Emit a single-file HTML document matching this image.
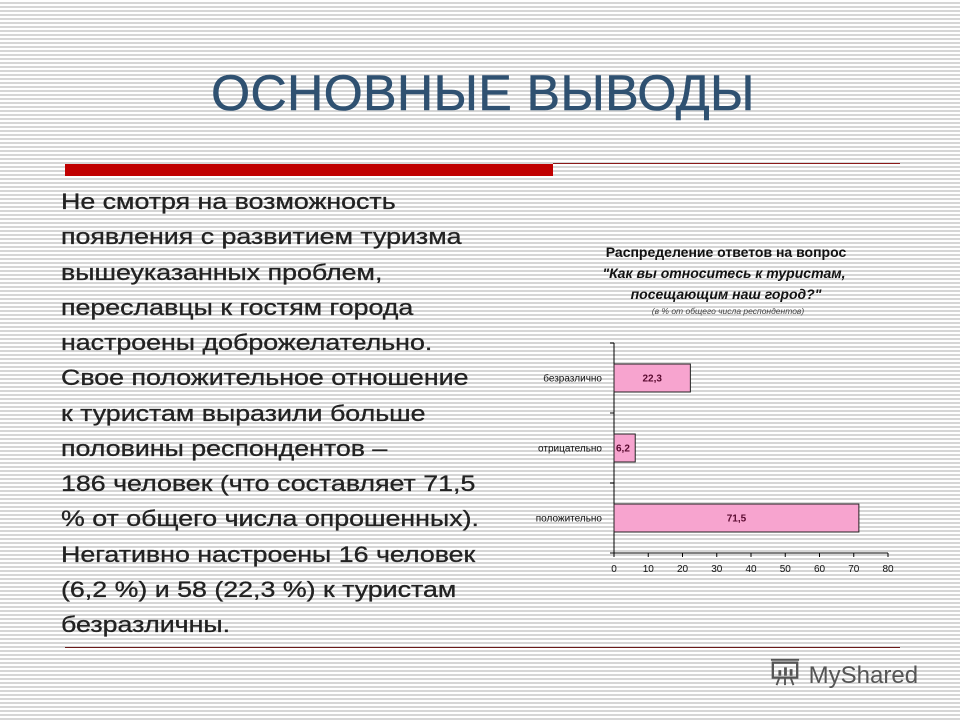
<!DOCTYPE html>
<html><head><meta charset="utf-8"><style>
body{margin:0;width:960px;height:720px;overflow:hidden;font-family:"Liberation Sans",sans-serif;
background:repeating-linear-gradient(to bottom,#fff 0,#fff 2px,#d6d6d6 2px,#d6d6d6 4px);position:relative}
#title{position:absolute;left:0;width:966px;top:64px;text-align:center;font-size:50px;color:#2f5171;letter-spacing:0.5px;-webkit-text-stroke:0.6px #2f5171}
#redbar{position:absolute;left:65px;top:164px;width:488px;height:12px;background:#c00000}
#redline{position:absolute;left:553px;top:163px;width:347px;height:1px;background:#8b1a1a}
#botline{position:absolute;left:65px;top:647px;width:835px;height:1px;background:#6b1a1a}
#para{position:absolute;left:61px;top:184px;width:480px;font-size:22.5px;line-height:35.25px;color:#222;transform:scaleX(1.19);transform-origin:0 0;white-space:nowrap;-webkit-text-stroke:0.3px #222}
#logo{position:absolute;left:768px;top:657px;font-size:24px;color:#555}
</style></head><body>
<div id="title">ОСНОВНЫЕ ВЫВОДЫ</div>
<div id="redbar"></div>
<div id="redline"></div>
<div id="para">Не смотря на возможность<br>появления с развитием туризма<br>вышеуказанных проблем,<br>переславцы к гостям города<br>настроены доброжелательно.<br>Свое положительное отношение<br>к туристам выразили больше<br>половины респондентов –<br>186 человек (что составляет 71,5<br>% от общего числа опрошенных).<br>Негативно настроены 16 человек<br>(6,2 %) и 58 (22,3 %) к туристам<br>безразличны.</div>
<div id="botline"></div>
<div id="logo"><svg width="34" height="30" style="vertical-align:-4px" viewBox="0 0 36 32"><rect x="5" y="6" width="26" height="16" fill="none" stroke="#555" stroke-width="2.5"/><rect x="11" y="14" width="3" height="6" fill="#555"/><rect x="17" y="11" width="3" height="9" fill="#555"/><rect x="23" y="13" width="3" height="7" fill="#555"/><path d="M12 22 L9 30 M18 22 V30 M24 22 L27 30 M3 3 H33" stroke="#555" stroke-width="2" fill="none"/></svg> MyShared</div>
<svg id="chart" width="960" height="720" style="position:absolute;left:0;top:0"></svg>
<script>
const categories=["безразлично","отрицательно","положительно"];
const values=[22.3,6.2,71.5];
const labels=["22,3","6,2","71,5"];
const ticks=[0,10,20,30,40,50,60,70,80];
const svg=document.getElementById('chart');
const NS='http://www.w3.org/2000/svg';
const x0=614,x1=888,yTop=343,yBot=553;
const xs=v=>x0+(v-0)/(80-0)*(x1-x0);
const band=(yBot-yTop)/categories.length;
function mk(t,a,txt){const e=document.createElementNS(NS,t);for(const k in a)e.setAttribute(k,a[k]);if(txt!=null)e.textContent=txt;svg.appendChild(e);return e;}
const f='"Liberation Sans",sans-serif';
let t=mk('text',{x:726,y:257,'text-anchor':'middle','font-size':14,'font-weight':'bold','font-family':f,fill:'#111'},'Распределение ответов на вопрос');

t=mk('text',{x:724,y:278,'text-anchor':'middle','font-size':14,'font-weight':'bold','font-style':'italic','font-family':f,fill:'#111'},'"Как вы относитесь к туристам,');

t=mk('text',{x:726,y:299,'text-anchor':'middle','font-size':14,'font-weight':'bold','font-style':'italic','font-family':f,fill:'#111'},'посещающим наш город?"');

t=mk('text',{x:728,y:314,'text-anchor':'middle','font-size':8.5,'font-style':'italic','font-family':f,fill:'#444'},'(в % от общего числа респондентов)');

let a=mk('line',{x1:x0,y1:yTop,x2:x0,y2:yBot,stroke:'#000'});

a=mk('line',{x1:x0,y1:yBot,x2:x1,y2:yBot,stroke:'#000'});

for(let i=0;i<=categories.length;i++){const y=yTop+i*band;const l=mk('line',{x1:x0-4,y1:y,x2:x0,y2:y,stroke:'#000'});
}
ticks.forEach(v=>{const l=mk('line',{x1:xs(v),y1:yBot,x2:xs(v),y2:yBot+4,stroke:'#000'});

const tx=mk('text',{x:xs(v),y:yBot+19,'text-anchor':'middle','font-size':10,'font-family':f,fill:'#111'},String(v));
});
categories.forEach((c,i)=>{const cy=yTop+band*(i+0.5);
const r=mk('rect',{x:x0,y:cy-14,width:xs(values[i])-x0,height:28,fill:'#f7a4cf',stroke:'#222'});

const l=mk('text',{x:602,y:cy+3.5,'text-anchor':'end','font-size':10,'font-family':f,fill:'#111'},c);

const w=xs(values[i])-x0;
const v=mk('text',{x:w<30?x0+2:x0+w/2,y:cy+3.5,'text-anchor':w<30?'start':'middle','font-size':10,'font-weight':'bold','font-family':f,fill:'#5a0a30'},labels[i]);
});
</script>
</body></html>
